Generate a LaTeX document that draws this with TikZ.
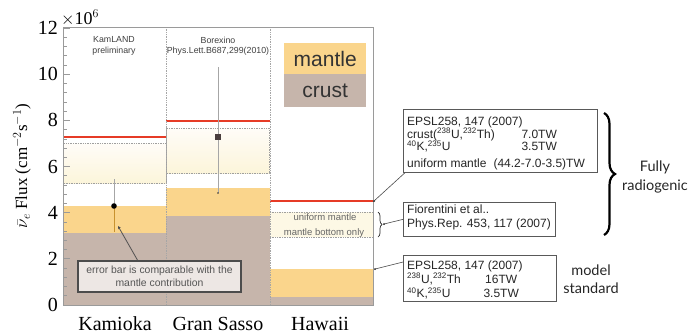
\documentclass[tikz,border=0pt]{standalone}
\usepackage{fontspec}
\setmainfont{Liberation Serif}
\setsansfont{Liberation Sans}
\newfontfamily\latofont{Lato}
\usetikzlibrary{decorations.pathreplacing,arrows.meta}
\definecolor{mantlec}{HTML}{FAD58C}
\definecolor{crustc}{HTML}{C6B5AB}
\definecolor{redl}{HTML}{E63B26}
\definecolor{framec}{HTML}{9A9A9A}
\definecolor{paleY}{HTML}{FCF5DA}
\definecolor{paleW}{HTML}{FFFCF8}
\definecolor{errfill}{HTML}{EDE7E4}
\definecolor{txtgray}{HTML}{555555}
\definecolor{markc}{HTML}{4A3E3E}
\definecolor{errbarc}{HTML}{C8922E}
\begin{document}
\begin{tikzpicture}[x=1pt,y=-1pt,
  frame/.style={draw=framec, line width=0.9pt},
  redline/.style={draw=redl, line width=2.4pt},
  dotbox/.style={draw=gray!75, densely dotted, line width=0.7pt},
  divider/.style={draw=gray!70, densely dotted, line width=0.7pt},
  refbox/.style={draw=gray!70!black, line width=0.7pt, fill=white, inner sep=0pt, anchor=north west},
  reftext/.style={font=\sffamily\fontsize{12}{13}\selectfont, text=black!85, inner sep=0pt, anchor=base west},
  leader/.style={draw=gray!60!black, line width=0.6pt},
  tip/.style={fill=gray!30!black},
  ticklab/.style={font=\fontsize{20}{20}\selectfont, anchor=east, inner sep=0pt},
  sitelab/.style={font=\fontsize{20}{20}\selectfont, anchor=base, inner sep=0pt},
  small/.style={font=\sffamily\fontsize{8.8}{9}\selectfont, text=black!75, inner sep=0pt},
  hawtext/.style={font=\sffamily\fontsize{9.5}{10}\selectfont, text=black!60, inner sep=0pt},
  legtext/.style={font=\sffamily\fontsize{21}{21}\selectfont, text=black!80, inner sep=0pt},
  sidelab/.style={font=\latofont\fontsize{14.5}{18}\selectfont, text=black!85, inner sep=0pt, anchor=base}]
\useasboundingbox (0,0) rectangle (689,333);
\fill[white] (0,0) rectangle (689,333);

% ---- Kamioka column
\fill[crustc] (63,233) rectangle (166,305);
\fill[mantlec] (63,206) rectangle (166,233);
\shade[top color=paleW, bottom color=paleY] (63,143) rectangle (166,183);
\draw[dotbox] (63,143) rectangle (166,183);
\draw[redline] (63,137) -- (166,137);
% ---- Gran Sasso column
\fill[crustc] (166,216) rectangle (270,305);
\fill[mantlec] (166,188) rectangle (270,216);
\shade[top color=paleW, bottom color=paleY] (166,128) rectangle (270,173);
\draw[dotbox] (166,128) rectangle (269,173);
\draw[redline] (166,121) -- (270,121);
% ---- Hawaii column
\fill[crustc] (270,297) rectangle (373,305);
\fill[mantlec] (270,269) rectangle (373,297);
\fill[paleY!70!white] (270,212) rectangle (373,237);
\draw[dotbox] (270,212) -- (373,212) (270,237) -- (373,237);
\draw[redline] (270,201) -- (373,201);

% dividers
\draw[divider] (166,27) -- (166,305);
\draw[divider] (270,27) -- (270,305);

% legend
\node[fill=mantlec, minimum width=82pt, minimum height=31pt, inner sep=0pt, anchor=north west] (legm) at (284,43) {};
\node[fill=crustc, minimum width=82pt, minimum height=33pt, inner sep=0pt, anchor=north west] (legc) at (284,74) {};
\node[legtext] (legmt) at (legm.center) {mantle};
\node[legtext] (legct) at (legc.center) {crust};

% frame and ticks
\draw[frame] (63,27) rectangle (373,305);
\foreach \i in {0,...,30} {
  \pgfmathsetmacro\yy{305-23.08*\i*0.4}
  \pgfmathtruncatemacro\mm{mod(\i,5)}
  \ifnum\mm=0
    \draw[framec, line width=0.7pt] (63,\yy) -- (70,\yy);
  \else
    \draw[framec, line width=0.6pt] (63,\yy) -- (67,\yy);
  \fi
}
\foreach \v in {0,2,...,12} {
  \node[ticklab] (tk\v) at (58,{305-23.08*\v}) {\v};
}
\node[font=\fontsize{18}{18}\selectfont, anchor=base west, inner sep=0pt] (expo) at (61,24) {$\times$10$^{6}$};
\node[rotate=90, font=\fontsize{17}{17}\selectfont, inner sep=0pt] (ylab) at (22,166) {$\bar{\nu}_{e}$ Flux (cm$^{-2}$s$^{-1}$)};

% site labels
\node[sitelab] (kam) at (115,330) {Kamioka};
\node[sitelab] (gs) at (218,330) {Gran Sasso};
\node[sitelab] (haw) at (320,330) {Hawaii};

% experiment labels
\node[small] (kl1) at (114,40) {KamLAND};
\node[small] (kl2) at (114,51.5) {preliminary};
\node[small] (bx1) at (218,40) {Borexino};
\node[small] (bx2) at (218,51.5) {Phys.Lett.B687,299(2010)};
\node[hawtext] (um) at (325,217.5) {uniform mantle};
\node[hawtext] (mb) at (324,233) {mantle bottom only};

% data points
\draw[gray!70, line width=0.8pt] (114,179) -- (114,206);
\draw[errbarc, line width=0.9pt] (114,206) -- (114,232);
\fill[black] (114,206) circle (2.8pt);
\node[fill=markc, minimum size=5.5pt, inner sep=0pt] (gsp) at (218,137) {};
\draw[gray!70, line width=0.8pt] (218,67) -- (gsp.north);
\draw[gray!70, line width=0.8pt] (gsp.south) -- (218,193);
\fill[gray!40!black] (218,193) circle (0.9pt);

% error annotation
\coordinate (errpt) at (118,226);
\node[draw=gray!60!black, line width=1.1pt, fill=errfill, minimum width=163pt, minimum height=31pt, inner sep=0pt, align=center, font=\sffamily\fontsize{10.4}{13}\selectfont, text=txtgray] (eb) at (159.5,276.5) {error bar is comparable with the\\mantle contribution};
\draw[leader, line width=0.8pt, -{Stealth[length=3pt,width=3pt]}] (138,261) -- (errpt);

% reference box 1
\node[refbox, minimum width=194pt, minimum height=63pt] (b1) at (403,109) {};
\node[reftext] (b1t) at (407,125) {\begin{tabular}[t]{@{}l@{}}
\makebox[88pt][l]{EPSL258, 147 (2007)}\\[-0.5pt]
\makebox[88pt][l]{crust(\textsuperscript{238}U,\textsuperscript{232}Th)}\makebox[88pt][c]{7.0TW}\\[-1.5pt]
\makebox[88pt][l]{\textsuperscript{40}K,\textsuperscript{235}U}\makebox[88pt][c]{3.5TW}\\[3.5pt]
\makebox[88pt][l]{uniform mantle}\makebox[88pt][c]{(44.2-7.0-3.5)TW}
\end{tabular}};
% reference box 2
\node[refbox, minimum width=152pt, minimum height=34pt] (b2) at (403,202) {};
\node[reftext] (b2t) at (407,213.5) {\begin{tabular}[t]{@{}l@{}}
Fiorentini et al..\\[0.5pt]
Phys.Rep. 453, 117 (2007)
\end{tabular}};
% reference box 3
\node[refbox, minimum width=153pt, minimum height=46pt] (b3) at (403,255) {};
\node[reftext] (b3t) at (407,269) {\begin{tabular}[t]{@{}l@{}}
EPSL258, 147 (2007)\\[0.5pt]
\makebox[64pt][l]{\textsuperscript{238}U,\textsuperscript{232}Th}\makebox[60pt][c]{16TW}\\[0.5pt]
\makebox[64pt][l]{\textsuperscript{40}K,\textsuperscript{235}U}\makebox[60pt][c]{3.5TW}
\end{tabular}};

% leaders
\coordinate (hred) at (374,201);
\coordinate (hbr) at (384,224);
\coordinate (hman) at (375,269);
\coordinate (b1s) at ([xshift=2pt]b1.south west);
\coordinate (b3s) at ([yshift=-7pt]b3.north west);
\draw[leader] (b1s) -- (hred);
\fill[tip] (hred) circle (1pt);
\draw[leader] (b2.west) -- (hbr);
\fill[tip] (hbr) circle (1pt);
\draw[leader] (b3s) -- (hman);
\fill[tip] (hman) circle (1pt);

% small brace
\coordinate (sb1) at (378,212);
\coordinate (sb2) at (378,237);
\draw[gray!30!black, line width=0.7pt, decorate, decoration={brace, amplitude=4pt}] (sb1) -- (sb2);

% big brace
\coordinate (bb1) at (604,113);
\coordinate (bb2) at (604,235);
\draw[black, line width=2.2pt, decorate, decoration={brace, amplitude=11pt}] (bb1) -- (bb2);

% side labels
\node[sidelab] (fr1) at (655,171.5) {Fully};
\node[sidelab] (fr2) at (655,190) {radiogenic};
\node[sidelab] (ms1) at (591,275.5) {model};
\node[sidelab] (ms2) at (591,293) {standard};
\end{tikzpicture}
\end{document}
